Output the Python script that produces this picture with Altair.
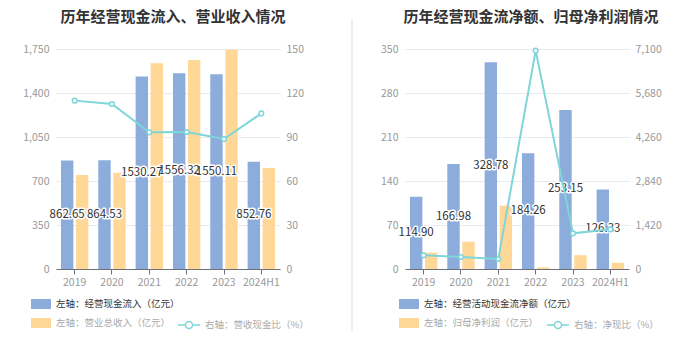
import altair as alt
import pandas as pd

years = ["2019", "2020", "2021", "2022", "2023", "2024H1"]

# left panel
cash_in = [862.65, 864.53, 1530.27, 1556.32, 1550.11, 852.76]
revenue = [748, 766, 1636, 1662, 1745, 803]
cash_rev_ratio = [114.8, 112.5, 93.2, 93.4, 88.6, 106.1]

# right panel
op_cf = [114.90, 166.98, 328.78, 184.26, 253.15, 126.33]
net_profit = [26.0, 43.5, 100.8, 2.6, 22.0, 9.9]
cf_np_ratio = [441, 387, 323, 7046, 1151, 1280]

left_ticks = [0, 350, 700, 1050, 1400, 1750]
left_rticks = [0, 30, 60, 90, 120, 150]
right_ticks = [0, 70, 140, 210, 280, 350]
right_rticks = [0, 1420, 2840, 4260, 5680, 7100]

FONT = "Noto Sans CJK SC"
BLUE = "#8CACDB"
YELLOW = "#FFD797"
YELLOW_LEG = "#FFE8C6"
CYAN = "#7ED6D9"
GRID = "#E8EAF2"
LABEL = "#999999"

RECT = "M-1,-0.5H1V0.5H-1Z"
LINESYM = "M-1,0H-0.32M0.32,0H1M0.32,0A0.32,0.32,0,1,1,-0.32,0A0.32,0.32,0,1,1,0.32,0"

BW = 12.4
OFF = 7.5


def panel(title, n1, v1, n2, v2, n3, v3, lt, rt, title_dx, title_off, leg_x, line_leg_x, sep=False):
    df = pd.DataFrame({"year": years, "b1": v1, "b2": v2, "ratio": v3})
    df["s1"] = n1
    df["s2"] = n2
    df["s3"] = n3
    df["mid"] = df["b1"] / 2
    df["lab"] = [f"{v:.2f}" for v in v1]
    base = alt.Chart(df)

    x = alt.X(
        "year:N", sort=years,
        scale=alt.Scale(paddingInner=0.26, paddingOuter=0.13),
        axis=alt.Axis(title=None, labelAngle=0, domainColor="#6E7079", tickColor="#6E7079",
                      tickSize=5, labelColor=LABEL, labelFont=FONT, labelFontSize=10.5,
                      labelPadding=3, grid=False),
    )
    laxis = alt.Axis(title=None, values=lt, format=",d", grid=True, gridColor=GRID, domain=False,
                     ticks=False, labelColor=LABEL, labelFont=FONT, labelFontSize=10.5, labelPadding=7)
    raxis = alt.Axis(title=None, orient="right", values=rt, format=",d", grid=False, domain=False,
                     ticks=False, labelColor=LABEL, labelFont=FONT, labelFontSize=10.5, labelPadding=6)
    lscale = alt.Scale(domain=[lt[0], lt[-1]], nice=False)
    rscale = alt.Scale(domain=[rt[0], rt[-1]], nice=False)

    bars1 = base.mark_bar(width=BW, xOffset=-OFF).encode(
        x=x,
        y=alt.Y("b1:Q", scale=lscale, axis=laxis),
        color=alt.Color("s1:N", scale=alt.Scale(domain=[n1], range=[BLUE]),
                        legend=alt.Legend(title=None, orient="none", legendX=leg_x, legendY=245,
                                          symbolType=RECT, symbolSize=400, symbolStrokeWidth=0,
                                          labelColor="#333333", labelFont=FONT, labelFontSize=9.5,
                                          labelOffset=5)),
    )
    bars2 = base.mark_bar(width=BW, xOffset=OFF).encode(
        x=x,
        y=alt.Y("b2:Q", scale=lscale, axis=laxis),
        fill=alt.Fill("s2:N", scale=alt.Scale(domain=[n2], range=[YELLOW]),
                      legend=alt.Legend(title=None, orient="none", legendX=leg_x, legendY=264,
                                        symbolType=RECT, symbolSize=400, symbolStrokeWidth=0,
                                        symbolFillColor=YELLOW_LEG,
                                        labelColor="#AAAAAA", labelFont=FONT, labelFontSize=9.5,
                                        labelOffset=5)),
    )
    halo = base.mark_text(font=FONT, fontSize=11.5, color="white", stroke="white",
                          strokeWidth=3, strokeJoin="round", xOffset=-OFF).encode(
        x=x, y=alt.Y("mid:Q", scale=lscale, axis=laxis), text="lab:N")
    txt = base.mark_text(font=FONT, fontSize=11.5, color="#333333", xOffset=-OFF).encode(
        x=x, y=alt.Y("mid:Q", scale=lscale, axis=laxis), text="lab:N")

    layers_left = [bars1, bars2, halo, txt]
    if sep:
        rule = base.mark_rule(color="#EEEEEE", strokeWidth=2).encode(
            x=alt.value(-53), y=alt.value(-30), y2=alt.value(282))
        layers_left = [rule] + layers_left
    left = alt.layer(*layers_left)

    line = base.mark_line(strokeWidth=2).encode(
        x=x,
        y=alt.Y("ratio:Q", scale=rscale, axis=raxis),
        stroke=alt.Stroke("s3:N", scale=alt.Scale(domain=[n3], range=[CYAN]),
                          legend=alt.Legend(title=None, orient="none", legendX=line_leg_x, legendY=264,
                                            symbolType=LINESYM, symbolSize=484, symbolStrokeWidth=1.5,
                                            symbolFillColor="white", symbolStrokeColor="#BDECEE",
                                            labelColor="#AAAAAA", labelFont=FONT, labelFontSize=9.5,
                                            labelOffset=4)),
    )
    pts = base.mark_point(shape="circle", fill="white", stroke=CYAN, strokeWidth=1.5,
                          size=22, opacity=1, filled=False).encode(
        x=x, y=alt.Y("ratio:Q", scale=rscale, axis=raxis))
    right = alt.layer(line, pts)

    return alt.layer(left, right).resolve_scale(y="independent").properties(
        width=224, height=220,
        title=alt.TitleParams(title, font=FONT, fontSize=15, fontWeight="bold", color="#333333",
                              anchor="middle", frame="group", dx=title_dx, offset=title_off),
    )


p1 = panel("历年经营现金流入、营业收入情况",
           "左轴：经营现金流入（亿元）", cash_in,
           "左轴：营业总收入（亿元）", revenue,
           "右轴：营收现金比（%）", cash_rev_ratio,
           left_ticks, left_rticks, 5, 19, -25, 121)
p2 = panel("历年经营现金流净额、归母净利润情况",
           "左轴：经营活动现金流净额（亿元）", op_cf,
           "左轴：归母净利润（亿元）", net_profit,
           "右轴：净现比（%）", cf_np_ratio,
           right_ticks, right_rticks, 14, -7, -6, 141, sep=True)

chart = alt.hconcat(p1, p2, spacing=42).resolve_scale(
    color="independent", fill="independent", stroke="independent"
).resolve_legend(
    color="independent", fill="independent", stroke="independent"
).properties(
    padding={"left": 14, "top": 2, "right": 5, "bottom": 5}
).configure_view(strokeWidth=0)

chart.save("out.html", embed_options={"renderer": "svg", "actions": False})
